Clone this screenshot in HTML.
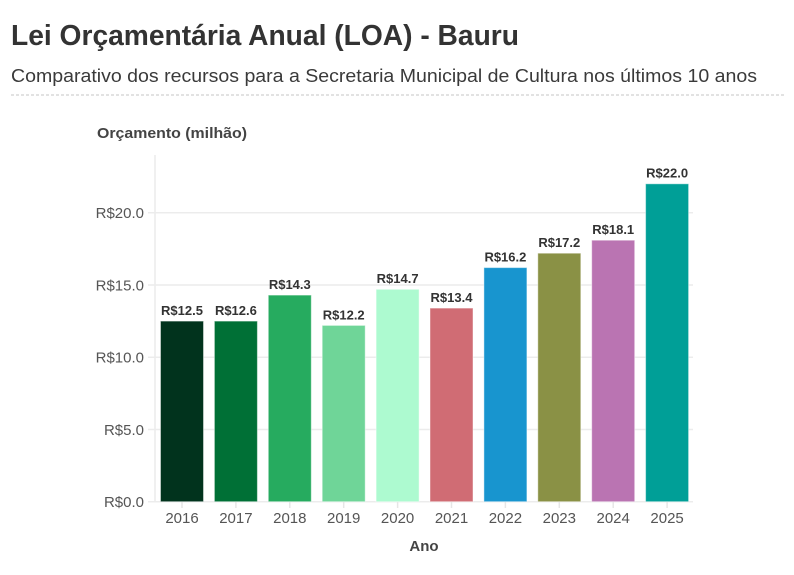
<!DOCTYPE html>
<html>
<head>
<meta charset="utf-8">
<style>
  html, body { margin: 0; padding: 0; background: #ffffff; }
  svg { display: block; }
  text { font-family: "Liberation Sans", sans-serif; }
</style>
</head>
<body>
<svg width="794" height="575" viewBox="0 0 794 575" xmlns="http://www.w3.org/2000/svg">
  <rect width="794" height="575" fill="#ffffff"/>
  <!-- Title -->
  <text x="11" y="45" font-size="29" font-weight="bold" fill="#333333" textLength="508" lengthAdjust="spacingAndGlyphs">Lei Orçamentária Anual (LOA) - Bauru</text>
  <text x="11" y="82" font-size="18" fill="#3a3a3a" textLength="746" lengthAdjust="spacingAndGlyphs">Comparativo dos recursos para a Secretaria Municipal de Cultura nos últimos 10 anos</text>
  <line x1="11" y1="95" x2="784" y2="95" stroke="#c4c4c4" stroke-width="1" stroke-dasharray="3,2"/>

  <!-- Y axis title -->
  <text x="97" y="138" font-size="15" font-weight="bold" fill="#444444" textLength="150" lengthAdjust="spacingAndGlyphs">Orçamento (milhão)</text>

  <!-- gridlines -->
  <g stroke="#ececec" stroke-width="1.5">
    <line x1="148" y1="501.7" x2="693" y2="501.7"/>
    <line x1="148" y1="429.5" x2="693" y2="429.5"/>
    <line x1="148" y1="357.2" x2="693" y2="357.2"/>
    <line x1="148" y1="285" x2="693" y2="285"/>
    <line x1="148" y1="212.7" x2="693" y2="212.7"/>
    <line x1="155" y1="155" x2="155" y2="502"/>
  </g>

  <!-- y tick labels -->
  <g font-size="15" fill="#555555" text-anchor="end">
    <text x="144" y="507">R$0.0</text>
    <text x="144" y="435">R$5.0</text>
    <text x="144" y="362.5">R$10.0</text>
    <text x="144" y="290.5">R$15.0</text>
    <text x="144" y="218">R$20.0</text>
  </g>

  <!-- bars -->
  <g stroke="rgba(255,255,255,0.45)" stroke-width="1">
    <rect x="160.5" y="321.1" width="43" height="180.6" fill="#01331d"/>
    <rect x="214.4" y="321.1" width="43" height="180.6" fill="#007036"/>
    <rect x="268.3" y="295.1" width="43" height="206.6" fill="#26ab5f"/>
    <rect x="322.2" y="325.4" width="43" height="176.3" fill="#6fd598"/>
    <rect x="376.1" y="289.3" width="43" height="212.4" fill="#adfad0"/>
    <rect x="430.0" y="308.1" width="43" height="193.6" fill="#d06c74"/>
    <rect x="483.9" y="267.6" width="43" height="234.1" fill="#1895cf"/>
    <rect x="537.8" y="253.2" width="43" height="248.5" fill="#8a9145"/>
    <rect x="591.7" y="240.2" width="43" height="261.5" fill="#ba74b2"/>
    <rect x="645.6" y="183.8" width="43" height="317.9" fill="#009f97"/>
  </g>

  <!-- value labels -->
  <g font-size="13" font-weight="bold" fill="#333333" text-anchor="middle">
    <text x="182" y="315">R$12.5</text>
    <text x="235.9" y="315">R$12.6</text>
    <text x="289.8" y="289">R$14.3</text>
    <text x="343.7" y="319.3">R$12.2</text>
    <text x="397.6" y="283.2">R$14.7</text>
    <text x="451.5" y="302">R$13.4</text>
    <text x="505.4" y="261.5">R$16.2</text>
    <text x="559.3" y="247.1">R$17.2</text>
    <text x="613.2" y="234.1">R$18.1</text>
    <text x="667.1" y="177.7">R$22.0</text>
  </g>

  <!-- x ticks -->
  <g stroke="#e6e6e6" stroke-width="1.5">
    <line x1="182" y1="502" x2="182" y2="508"/>
    <line x1="235.9" y1="502" x2="235.9" y2="508"/>
    <line x1="289.8" y1="502" x2="289.8" y2="508"/>
    <line x1="343.7" y1="502" x2="343.7" y2="508"/>
    <line x1="397.6" y1="502" x2="397.6" y2="508"/>
    <line x1="451.5" y1="502" x2="451.5" y2="508"/>
    <line x1="505.4" y1="502" x2="505.4" y2="508"/>
    <line x1="559.3" y1="502" x2="559.3" y2="508"/>
    <line x1="613.2" y1="502" x2="613.2" y2="508"/>
    <line x1="667.1" y1="502" x2="667.1" y2="508"/>
  </g>

  <!-- x tick labels -->
  <g font-size="15" fill="#555555" text-anchor="middle">
    <text x="182" y="523">2016</text>
    <text x="235.9" y="523">2017</text>
    <text x="289.8" y="523">2018</text>
    <text x="343.7" y="523">2019</text>
    <text x="397.6" y="523">2020</text>
    <text x="451.5" y="523">2021</text>
    <text x="505.4" y="523">2022</text>
    <text x="559.3" y="523">2023</text>
    <text x="613.2" y="523">2024</text>
    <text x="667.1" y="523">2025</text>
  </g>

  <!-- x axis title -->
  <text x="424" y="551" font-size="15" font-weight="bold" fill="#444444" text-anchor="middle">Ano</text>
</svg>
</body>
</html>
